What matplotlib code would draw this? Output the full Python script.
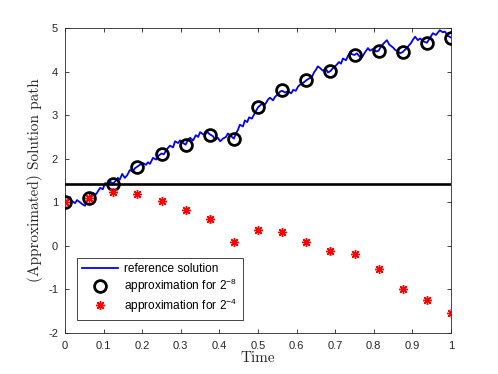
import matplotlib
matplotlib.use("Agg")
import matplotlib.pyplot as plt
import numpy as np

plt.rcParams['font.family'] = ['Liberation Sans', 'DejaVu Sans']
plt.rcParams['mathtext.fontset'] = 'custom'
plt.rcParams['mathtext.rm'] = 'Liberation Sans'
plt.rcParams['mathtext.it'] = 'Liberation Sans'
plt.rcParams['mathtext.bf'] = 'Liberation Sans'
plt.rcParams['axes.unicode_minus'] = False

# reference solution path
ref_t = [0.0, 0.008, 0.013, 0.018, 0.026, 0.031, 0.039, 0.044, 0.052, 0.054, 0.060, 0.0625,
         0.073, 0.080, 0.091, 0.098, 0.104, 0.111, 0.117, 0.125, 0.132, 0.137, 0.142, 0.148,
         0.155, 0.161, 0.168, 0.176, 0.181, 0.1875, 0.194, 0.202, 0.210, 0.215, 0.220, 0.228,
         0.236, 0.241, 0.25, 0.256, 0.264, 0.272, 0.280, 0.285, 0.293, 0.298, 0.306, 0.3125,
         0.319, 0.324, 0.332, 0.339, 0.345, 0.350, 0.358, 0.363, 0.368, 0.375, 0.383, 0.389,
         0.396, 0.402, 0.409, 0.417, 0.422, 0.430, 0.4375, 0.443, 0.448, 0.453, 0.461, 0.466,
         0.472, 0.477, 0.484, 0.492, 0.5, 0.505, 0.513, 0.518, 0.526, 0.531, 0.539, 0.544,
         0.552, 0.557, 0.5625, 0.570, 0.578, 0.586, 0.591, 0.598, 0.604, 0.609, 0.617, 0.625,
         0.632, 0.640, 0.645, 0.650, 0.655, 0.661, 0.668, 0.676, 0.681, 0.6875, 0.694, 0.702,
         0.710, 0.715, 0.720, 0.728, 0.733, 0.738, 0.743, 0.75, 0.756, 0.764, 0.769, 0.777,
         0.785, 0.790, 0.798, 0.806, 0.8125, 0.819, 0.827, 0.834, 0.840, 0.850, 0.855, 0.863,
         0.868, 0.875, 0.883, 0.891, 0.896, 0.902, 0.907, 0.914, 0.920, 0.927, 0.9375, 0.946,
         0.953, 0.961, 0.971, 0.979, 0.984, 0.992, 1.0]
ref_v = [1.00, 1.06, 1.12, 1.03, 0.98, 1.05, 1.00, 0.96, 0.92, 1.00, 1.08, 1.10,
         1.21, 1.18, 1.33, 1.30, 1.44, 1.40, 1.47, 1.43, 1.50, 1.56, 1.52, 1.65,
         1.56, 1.62, 1.74, 1.70, 1.78, 1.82, 1.86, 1.90, 1.86, 1.92, 1.88, 2.02,
         1.98, 2.06, 2.12, 2.10, 2.22, 2.30, 2.26, 2.40, 2.36, 2.42, 2.36, 2.32,
         2.44, 2.48, 2.42, 2.54, 2.50, 2.61, 2.56, 2.55, 2.62, 2.56, 2.52, 2.43,
         2.48, 2.40, 2.46, 2.50, 2.58, 2.52, 2.46, 2.58, 2.66, 2.78, 2.74, 2.88,
         2.84, 2.95, 2.92, 3.05, 3.18, 3.22, 3.28, 3.24, 3.36, 3.40, 3.34, 3.42,
         3.48, 3.54, 3.56, 3.52, 3.55, 3.50, 3.58, 3.56, 3.66, 3.70, 3.74, 3.80,
         3.84, 3.88, 3.98, 4.04, 4.12, 4.08, 4.02, 4.06, 3.98, 4.01, 4.08, 4.14,
         4.22, 4.18, 4.30, 4.26, 4.36, 4.44, 4.40, 4.38, 4.42, 4.34, 4.32, 4.44,
         4.54, 4.48, 4.52, 4.46, 4.48, 4.58, 4.66, 4.72, 4.62, 4.55, 4.50, 4.46,
         4.42, 4.45, 4.52, 4.60, 4.65, 4.74, 4.80, 4.72, 4.76, 4.70, 4.66, 4.78,
         4.88, 4.84, 4.95, 4.90, 4.92, 4.82, 4.78]

# approximation with step 2^-8 sampled at t = k/16
t16 = [k / 16 for k in range(17)]
circ_v = [1.00, 1.10, 1.43, 1.82, 2.11, 2.32, 2.55, 2.46, 3.19, 3.57, 3.80, 4.01,
          4.37, 4.48, 4.45, 4.65, 4.78]
# approximation with step 2^-4
star_v = [1.00, 1.10, 1.23, 1.18, 1.04, 0.82, 0.62, 0.085, 0.37, 0.31, 0.10, -0.11,
          -0.19, -0.52, -0.99, -1.24, -1.54]
hline_v = 1.414

xticks = [0, 0.1, 0.2, 0.3, 0.4, 0.5, 0.6, 0.7, 0.8, 0.9, 1]
xticklabels = ['0', '0.1', '0.2', '0.3', '0.4', '0.5', '0.6', '0.7', '0.8', '0.9', '1']
yticks = [-2, -1, 0, 1, 2, 3, 4, 5]

fig = plt.figure(figsize=(4.98, 3.74), dpi=100)
ax = fig.add_axes([65 / 498, 41 / 374, 386 / 498, 305 / 374])

ax.plot(ref_t, ref_v, color='#0000ff', lw=1.3, label='reference solution', zorder=2)
ax.plot(t16, circ_v, linestyle='none', marker='o', ms=8.5, mfc='none', mec='black',
        mew=2.0, label=r'approximation for 2$^{\mathrm{-8}}$', zorder=3)
ax.plot(t16, star_v, linestyle='none', marker=(8, 2, 0), ms=6.5, mec='#ff0000',
        mfc='#ff0000', mew=1.0, label=r'approximation for 2$^{\mathrm{-4}}$', zorder=4)
ax.axhline(hline_v, color='black', lw=1.9, zorder=5)

ax.set_xlim(0, 1)
ax.set_ylim(-2, 5)
ax.set_xticks(xticks)
ax.set_xticklabels(xticklabels)
ax.set_yticks(yticks)
ax.tick_params(direction='in', top=True, right=True, length=3, width=0.6,
               labelsize=8, colors='#262626')
ax.tick_params(axis='x', pad=6)
ax.tick_params(axis='y', pad=5)
for s in ax.spines.values():
    s.set_color('#262626')
    s.set_linewidth(0.6)

ax.set_xlabel('Time', fontsize=11, family='cmr10', color='#262626', labelpad=0)
ax.set_ylabel('(Approximated) Solution path', fontsize=11, family='cmr10',
              color='#262626', labelpad=4)

leg = ax.legend(loc='lower left', bbox_to_anchor=(0.031, 0.043, 0.43, 0.19),
                mode='expand', fontsize=8.6, frameon=True, fancybox=False,
                edgecolor='#262626', framealpha=1, borderaxespad=0,
                handlelength=3.0, handletextpad=0.45, labelspacing=0.12,
                borderpad=0.45)
leg.get_frame().set_linewidth(0.6)

fig.savefig('out.png', dpi=100)
